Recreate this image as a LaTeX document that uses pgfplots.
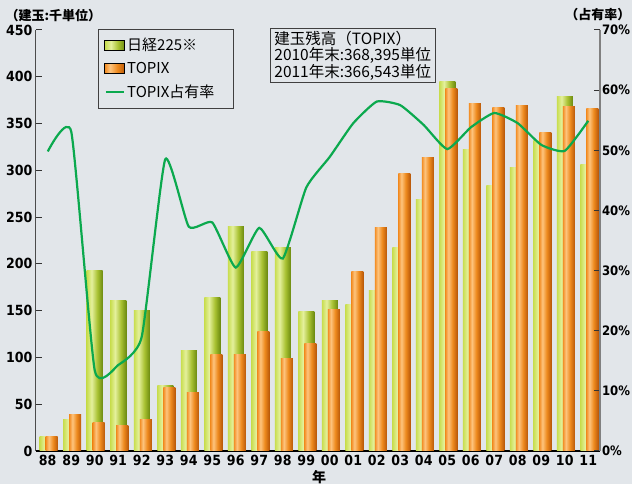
\documentclass[border=0pt]{standalone}
\usepackage{pgfplots}
\pgfplotsset{compat=1.18}
\usepackage{pgfplotstable}
\usepackage{fontspec}
\setmainfont{Noto Sans CJK JP}
\newfontfamily\numfont{DejaVu Sans Condensed}

\definecolor{bg}{HTML}{E2E6EA}
\definecolor{gL}{HTML}{C8DD4E}
\definecolor{gM}{HTML}{E4F09C}
\definecolor{gD}{HTML}{A9C232}
\definecolor{gR}{HTML}{6C8A10}
\definecolor{oL}{HTML}{F28C22}
\definecolor{oM}{HTML}{FDC47E}
\definecolor{oD}{HTML}{EE8A1E}
\definecolor{oR}{HTML}{B9590A}
\definecolor{lineg}{HTML}{0BA94E}

\pgfdeclarehorizontalshading{greenbar}{100bp}{color(0bp)=(gL); color(25bp)=(gL); color(40bp)=(gM); color(58bp)=(gD); color(75bp)=(gR); color(100bp)=(gR)}
\pgfdeclarehorizontalshading{orangebar}{100bp}{color(0bp)=(oL); color(25bp)=(oL); color(38bp)=(oM); color(56bp)=(oD); color(75bp)=(oR); color(100bp)=(oR)}

% x = year index (88 ... 11), nikkei / topix in thousand units, share in %
\pgfplotstableread{
x nikkei topix share
0 16 16 49.8
1 34 39 53.1
2 193 30 13.4
3 161 27 14.3
4 150 34 19.0
5 70 68 48.5
6 107 62 37.3
7 164 103 38.0
8 240 103 30.5
9 213 128 37.1
10 218 99 32.0
11 149 115 43.8
12 161 151 48.9
13 157 192 54.5
14 172 239 58.1
15 218 297 57.5
16 269 314 54.2
17 395 387 50.2
18 322 371 53.8
19 284 367 56.2
20 303 369 54.5
21 332 340 50.9
22 379 368.4 49.9
23 306 366.5 54.9
}\chartdata

\begin{document}
\begin{tikzpicture}[x=1pt,y=1pt]
\fill[bg] (0,0) rectangle (632,484);
\useasboundingbox (0,0) rectangle (632,484);

\begin{axis}[
    at={(36pt,33pt)}, anchor=south west,
    scale only axis, width=564pt, height=421pt,
    xmin=-0.5, xmax=23.5, ymin=0, ymax=450,
    axis x line*=bottom, axis y line*=left,
    x axis line style={black, line width=1.5pt},
    y axis line style={black!70, line width=1pt},
    xtick={0,...,23},
    xticklabels={88,89,90,91,92,93,94,95,96,97,98,99,00,01,02,03,04,05,06,07,08,09,10,11},
    ytick={0,50,...,450},
    tick align=inside, major tick length=6pt,
    major x tick style={draw=none},
    major y tick style={black!80, line width=1pt},
    /pgf/number format/assume math mode=true,
    tick label style={font=\numfont\bfseries\fontsize{14}{16}\selectfont},
    xticklabel style={yshift=-1pt},
    legend style={at={(0.11,1.003)}, anchor=north west, draw=black!75, fill=none,
        line width=0.8pt, inner xsep=6pt, inner ysep=7pt, row sep=6pt,
        font=\fontsize{15}{17}\selectfont},
    legend cell align=left,
]
% one plot per year so that every bar gets its own shading
\pgfplotsinvokeforeach{0,...,23}{
  \addplot[forget plot, ybar, bar width=16pt, bar shift=0pt, draw=none,
      shading=greenbar, shading angle=0, restrict x to domain=#1:#1]
      table[x=x, y=nikkei] {\chartdata};
  \addplot[forget plot, ybar, bar width=12pt, bar shift=4pt, draw=none,
      shading=orangebar, shading angle=0, restrict x to domain=#1:#1]
      table[x=x, y=topix] {\chartdata};
}
\addlegendimage{legend image code/.code={\fill[shading=greenbar, shading angle=0] (0pt,-5pt) rectangle (20pt,5pt);}}
\addlegendentry{日経225※}
\addlegendimage{legend image code/.code={\fill[shading=orangebar, shading angle=0] (0pt,-5pt) rectangle (20pt,5pt);}}
\addlegendentry{TOPIX}
\addlegendimage{legend image code/.code={\draw[lineg, line width=2.2pt] (1pt,0pt) -- (19pt,0pt);}}
\addlegendentry{\makebox[98pt][l]{TOPIX占有率}}
\end{axis}

\begin{axis}[
    at={(36pt,33pt)}, anchor=south west,
    scale only axis, width=564pt, height=421pt,
    xmin=-0.5, xmax=23.5, ymin=0, ymax=70,
    axis x line=none, axis y line*=right,
    y axis line style={black!50, line width=1.8pt},
    ytick={0,10,...,70},
    yticklabel={\pgfmathprintnumber{\tick}\%},
    tick align=inside, major tick length=6pt,
    major y tick style={black!80, line width=1pt},
    /pgf/number format/assume math mode=true,
    tick label style={font=\numfont\bfseries\fontsize{13}{15}\selectfont},
    yticklabel style={xshift=-1.5pt},
]
\addplot[lineg, line width=2.2pt, smooth, tension=0.3, no markers]
    table[x=x, y=share] {\chartdata};
\end{axis}

\node[draw=black!75, line width=0.8pt, anchor=north west, align=left, inner xsep=4pt, inner ysep=2.5pt,
    font=\fontsize{15.5}{16.5}\selectfont] at (270,456)
    {建玉残高（TOPIX）\\2010年末:368,395単位\\2011年末:366,543単位};
\node[anchor=west, font=\fontsize{13}{15}\selectfont\bfseries] at (2,468) {（建玉:千単位）};
\node[anchor=east, font=\fontsize{13}{15}\selectfont\bfseries] at (634,469) {（占有率）};
\node[font=\fontsize{14}{15}\selectfont\bfseries] at (319,7) {年};
\end{tikzpicture}
\end{document}
